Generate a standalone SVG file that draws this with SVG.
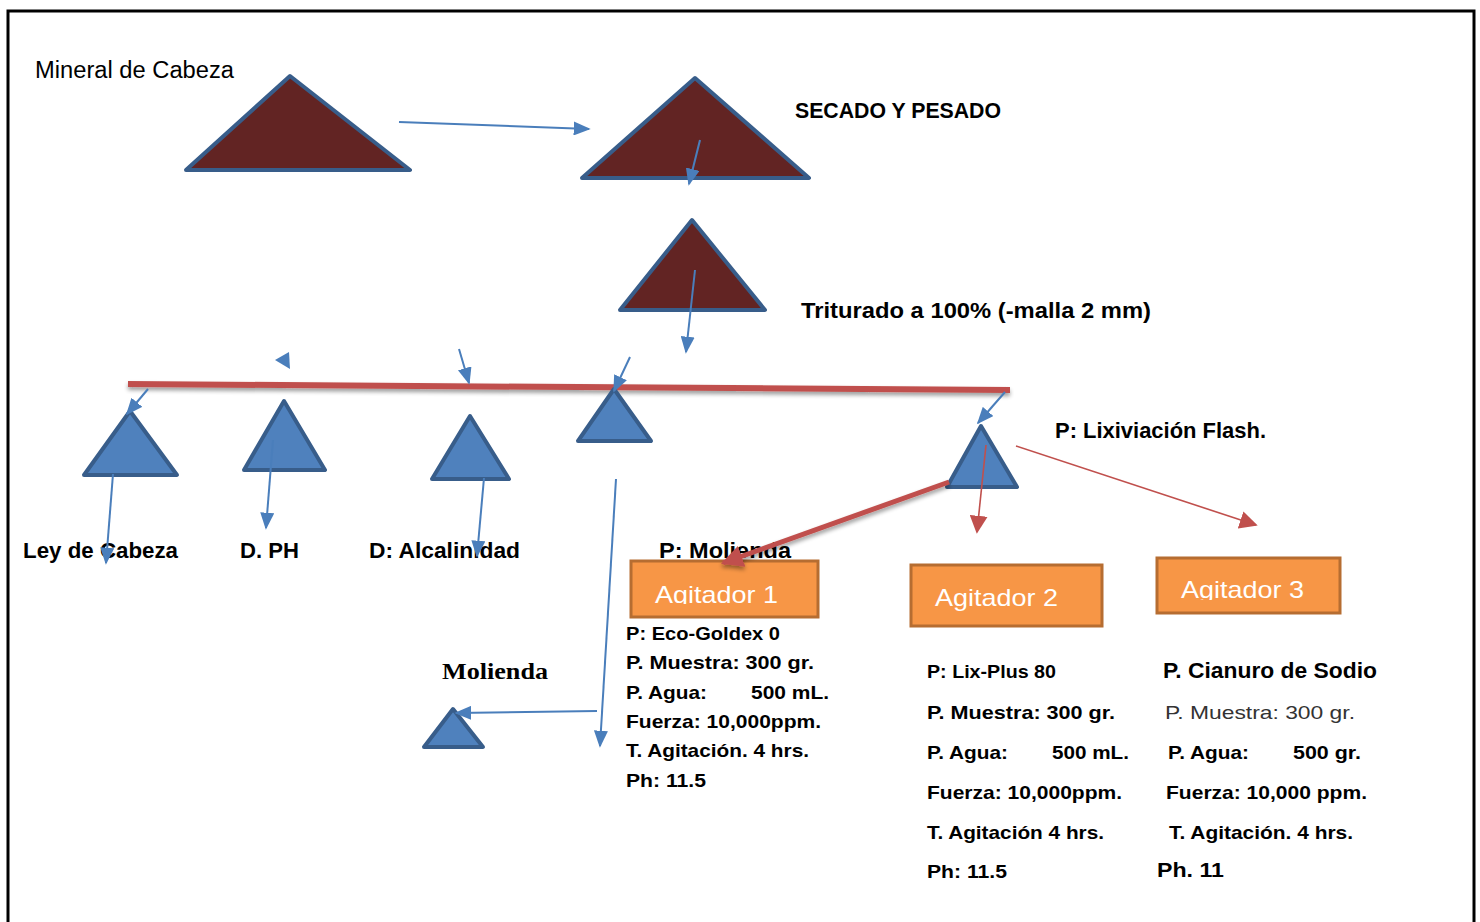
<svg xmlns="http://www.w3.org/2000/svg" width="1480" height="922" viewBox="0 0 1480 922">
<style>
.brn{fill:#622423;stroke:#385D8A;stroke-width:4;stroke-linejoin:round}
.blu{fill:#4F81BD;stroke:#385D8A;stroke-width:4;stroke-linejoin:round}
.box{fill:#F79646;stroke:#B66D31;stroke-width:3}
.ba{stroke:#4A7EBB;stroke-width:2;fill:none}
.ra{stroke:#C0504D;stroke-width:1.6;fill:none}
.t{font-family:"Liberation Sans",Arial,sans-serif;fill:#000}
.b{font-weight:bold}
.ag{font-family:"Liberation Sans",Arial,sans-serif;fill:#fff;font-size:24px}
.s{font-size:19px}
</style>
<defs>
<marker id="mb" viewBox="0 0 10 10" refX="9" refY="5" markerWidth="17" markerHeight="14" markerUnits="userSpaceOnUse" orient="auto" preserveAspectRatio="none"><path d="M0,0L10,5L0,10z" fill="#4A7EBB"/></marker>
<marker id="mrt" viewBox="0 0 10 10" refX="9" refY="5" markerWidth="18" markerHeight="18" markerUnits="userSpaceOnUse" orient="auto"><path d="M0,0L10,5L0,10z" fill="#C0504D"/></marker>
<marker id="mrT" viewBox="0 0 10 10" refX="9" refY="5" markerWidth="22" markerHeight="22" markerUnits="userSpaceOnUse" orient="auto"><path d="M0,0L10,5L0,10z" fill="#C0504D"/></marker>
<filter id="sh" x="-5%" y="-200%" width="110%" height="500%"><feGaussianBlur in="SourceAlpha" stdDeviation="2"/><feOffset dy="3"/><feComponentTransfer><feFuncA type="linear" slope="0.4"/></feComponentTransfer><feMerge><feMergeNode/><feMergeNode in="SourceGraphic"/></feMerge></filter>
<clipPath id="c1"><rect x="632" y="562" width="185" height="42"/></clipPath>
<clipPath id="c3"><rect x="1158" y="559" width="181" height="41"/></clipPath>
</defs>
<rect x="8" y="11" width="1466" height="930" fill="#fff" stroke="#000" stroke-width="3"/>

<g id="mineral-cabeza">
<polygon class="brn" points="186,170 290,76 410,170"/>
<text class="t" x="35" y="78" font-size="23" textLength="199" lengthAdjust="spacingAndGlyphs">Mineral de Cabeza</text>
</g>
<g id="secado">
<polygon class="brn" points="582,178 695,78 809,178"/>
<text class="t b" x="795" y="118" font-size="22" textLength="206" lengthAdjust="spacingAndGlyphs">SECADO Y PESADO</text>
</g>
<g id="triturado">
<polygon class="brn" points="620,310 692,220 765,310"/>
<text class="t b" x="801" y="318" font-size="22" textLength="350" lengthAdjust="spacingAndGlyphs">Triturado a 100% (-malla 2 mm)</text>
</g>

<g id="distribuidor">
<line x1="128" y1="384" x2="1010" y2="390" stroke="#C0504D" stroke-width="6" filter="url(#sh)"/>
</g>

<g id="ley-cabeza">
<polygon class="blu" points="84,475 130,411 177,475"/>
<text class="t b" x="23" y="558" font-size="22" textLength="155" lengthAdjust="spacingAndGlyphs">Ley de Cabeza</text>
</g>
<g id="d-ph">
<polygon class="blu" points="244,470 284,401 325,470"/>
<text class="t b" x="240" y="558" font-size="22" textLength="59" lengthAdjust="spacingAndGlyphs">D. PH</text>
</g>
<g id="d-alcalinidad">
<polygon class="blu" points="432,479 470,416 509,479"/>
<text class="t b" x="369" y="558" font-size="22" textLength="151" lengthAdjust="spacingAndGlyphs">D: Alcalinidad</text>
</g>
<g id="p-molienda">
<polygon class="blu" points="578,441 614,389 651,441"/>
<text class="t b" x="659" y="558" font-size="22" textLength="132" lengthAdjust="spacingAndGlyphs">P: Molienda</text>
</g>
<g id="p-lixiviacion">
<polygon class="blu" points="947,487 981,426 1017,487"/>
<text class="t b" x="1055" y="438" font-size="22" textLength="211" lengthAdjust="spacingAndGlyphs">P: Lixiviación Flash.</text>
</g>
<g id="molienda">
<polygon class="blu" points="424,747 453,709 483,747"/>
<text x="442" y="679" font-family="'Liberation Serif','Times New Roman',serif" font-weight="bold" font-size="24" textLength="106" lengthAdjust="spacingAndGlyphs">Molienda</text>
</g>

<g id="agitador-1">
<rect class="box" x="631" y="561" width="187" height="56"/>
<text class="ag" x="655" y="603" clip-path="url(#c1)" textLength="123" lengthAdjust="spacingAndGlyphs">Agitador 1</text>
<g class="t b s">
<text x="626" y="640" textLength="154" lengthAdjust="spacingAndGlyphs">P: Eco-Goldex 0</text>
<text x="626" y="669" textLength="188" lengthAdjust="spacingAndGlyphs">P. Muestra: 300 gr.</text>
<text x="626" y="699" textLength="81" lengthAdjust="spacingAndGlyphs">P. Agua:</text>
<text x="751" y="699" textLength="78" lengthAdjust="spacingAndGlyphs">500 mL.</text>
<text x="626" y="728" textLength="195" lengthAdjust="spacingAndGlyphs">Fuerza: 10,000ppm.</text>
<text x="626" y="757" textLength="183" lengthAdjust="spacingAndGlyphs">T. Agitación. 4 hrs.</text>
<text x="626" y="787" textLength="80" lengthAdjust="spacingAndGlyphs">Ph: 11.5</text>
</g>
</g>

<g id="agitador-2">
<rect class="box" x="911" y="565" width="191" height="61"/>
<text class="ag" x="935" y="606" textLength="123" lengthAdjust="spacingAndGlyphs">Agitador 2</text>
<g class="t b s">
<text x="927" y="678" textLength="129" lengthAdjust="spacingAndGlyphs">P: Lix-Plus 80</text>
<text x="927" y="719" textLength="188" lengthAdjust="spacingAndGlyphs">P. Muestra: 300 gr.</text>
<text x="927" y="759" textLength="81" lengthAdjust="spacingAndGlyphs">P. Agua:</text>
<text x="1052" y="759" textLength="77" lengthAdjust="spacingAndGlyphs">500 mL.</text>
<text x="927" y="799" textLength="195" lengthAdjust="spacingAndGlyphs">Fuerza: 10,000ppm.</text>
<text x="927" y="839" textLength="177" lengthAdjust="spacingAndGlyphs">T. Agitación 4 hrs.</text>
<text x="927" y="878" textLength="80" lengthAdjust="spacingAndGlyphs">Ph: 11.5</text>
</g>
</g>

<g id="agitador-3">
<rect class="box" x="1157" y="558" width="183" height="55"/>
<text class="ag" x="1181" y="598" clip-path="url(#c3)" textLength="123" lengthAdjust="spacingAndGlyphs">Agitador 3</text>
<text class="t b" x="1163" y="678" font-size="22" textLength="214" lengthAdjust="spacingAndGlyphs">P. Cianuro de Sodio</text>
<text class="t" x="1165" y="719" font-size="19" style="fill:#333" textLength="190" lengthAdjust="spacingAndGlyphs">P. Muestra:  300 gr.</text>
<g class="t b s">
<text x="1168" y="759" textLength="81" lengthAdjust="spacingAndGlyphs">P. Agua:</text>
<text x="1293" y="759" textLength="68" lengthAdjust="spacingAndGlyphs">500 gr.</text>
<text x="1166" y="799" textLength="201" lengthAdjust="spacingAndGlyphs">Fuerza: 10,000 ppm.</text>
<text x="1169" y="839" textLength="184" lengthAdjust="spacingAndGlyphs">T. Agitación. 4 hrs.</text>
</g>
<text class="t b" x="1157" y="877" font-size="21" textLength="67" lengthAdjust="spacingAndGlyphs">Ph. 11</text>
</g>

<g id="connectors">
<line class="ba" x1="399" y1="122" x2="589" y2="129" marker-end="url(#mb)"/>
<line class="ba" x1="700" y1="140" x2="689" y2="184" marker-end="url(#mb)"/>
<line class="ba" x1="695" y1="270" x2="686" y2="352" marker-end="url(#mb)"/>
<polygon points="275,360 289,352 290,369" fill="#4A7EBB"/>
<line class="ba" x1="148" y1="389" x2="127" y2="414" marker-end="url(#mb)"/>
<line class="ba" x1="459" y1="349" x2="469" y2="383" marker-end="url(#mb)"/>
<line class="ba" x1="630" y1="357" x2="614" y2="391" marker-end="url(#mb)"/>
<line class="ba" x1="1005" y1="392" x2="978" y2="423" marker-end="url(#mb)"/>
<line class="ba" x1="113" y1="474" x2="106" y2="563" marker-end="url(#mb)"/>
<line class="ba" x1="273" y1="440" x2="266" y2="528" marker-end="url(#mb)"/>
<line class="ba" x1="484" y1="478" x2="477" y2="556" marker-end="url(#mb)"/>
<line class="ba" x1="616" y1="479" x2="600" y2="746" marker-end="url(#mb)"/>
<line class="ba" x1="597" y1="711" x2="456" y2="713" marker-end="url(#mb)"/>
<line x1="949" y1="482" x2="723" y2="563" stroke="#C0504D" stroke-width="5" marker-end="url(#mrT)" filter="url(#sh)"/>
<line class="ra" x1="986" y1="445" x2="977" y2="532" marker-end="url(#mrt)"/>
<line class="ra" x1="1016" y1="446" x2="1256" y2="525" marker-end="url(#mrt)"/>
</g>
</svg>
